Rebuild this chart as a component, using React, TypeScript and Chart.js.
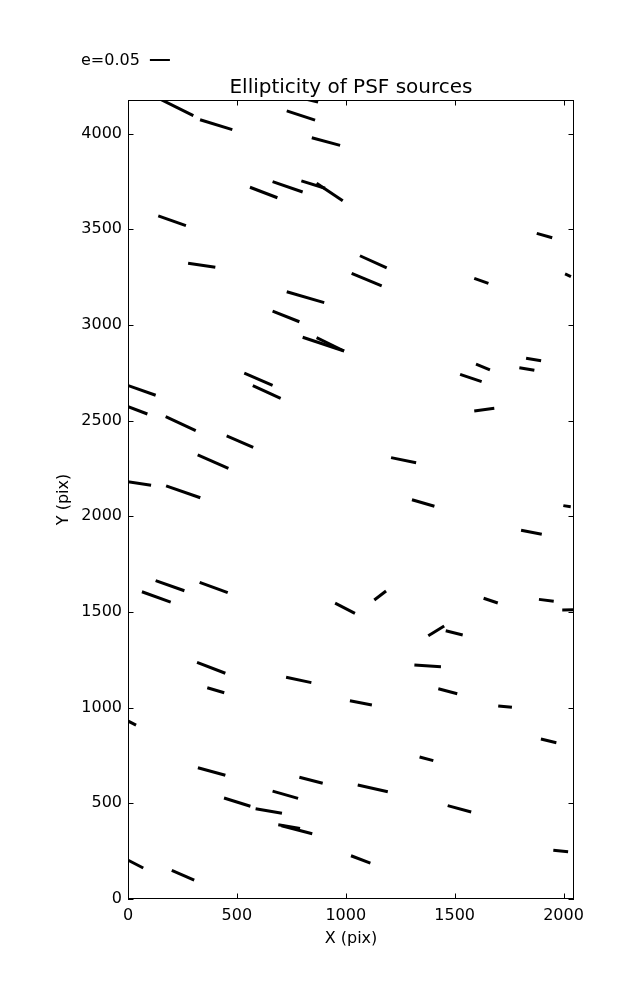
import React, { useEffect, useRef } from "react";
import { Chart, registerables } from "chart.js";

Chart.register(...registerables);

// Whisker segments (start / end) in image pixel coordinates
const X_START = [138, 331, 729, 844, 800, 560, 664, 796, 866, 139, 276, 1027, 1065, 1590, 1877, 2007, 1598, 1828, 1797, 729, 664, 802, 866, -5, -5, 173, 534, 573, 453, 320, -5, 175, 64, 127, 329, 951, 1525, 1590, 1208, 1304, 1999, 1805, 1131, 1633, 1887, 1994, 1379, 1459, 317, 364, 726, 1019, -5, 321, 787, 664, 441, 586, 690, 705, 1024, -5, 201, 1315, 1425, 1700, 1896, 1339, 1055, 1468, 1953];
const Y_START = [4186, 4073, 4119, 3979, 4185, 3720, 3749, 3753, 3741, 3570, 3323, 3270, 3362, 3244, 3479, 3267, 2795, 2826, 2777, 3174, 3073, 2936, 2934, 2686, 2576, 2521, 2748, 2683, 2420, 2321, 2182, 2159, 1606, 1664, 1655, 1546, 2742, 2551, 2307, 2087, 2056, 1927, 1563, 1572, 1566, 1511, 1376, 1402, 1237, 1104, 1159, 1036, 933, 686, 636, 564, 528, 472, 388, 383, 226, 206, 150, 1223, 1099, 1009, 836, 742, 596, 488, 255];
const X_END = [300, 479, 859, 974, 873, 686, 802, 905, 986, 266, 401, 1165, 1188, 1655, 1948, 2034, 1662, 1897, 1866, 901, 787, 992, 992, 127, 89, 311, 664, 701, 575, 461, 106, 332, 196, 259, 458, 1042, 1624, 1682, 1323, 1407, 2033, 1900, 1185, 1698, 1955, 2060, 1452, 1537, 447, 442, 842, 1120, 37, 447, 894, 781, 562, 707, 790, 846, 1113, 70, 304, 1437, 1512, 1763, 1967, 1402, 1193, 1576, 2021];
const Y_END = [4094, 4021, 4071, 3939, 4165, 3665, 3695, 3715, 3650, 3519, 3302, 3205, 3298, 3218, 3456, 3253, 2765, 2813, 2763, 3117, 3017, 2864, 2864, 2633, 2535, 2448, 2685, 2617, 2361, 2251, 2162, 2097, 1552, 1611, 1601, 1493, 2704, 2565, 2280, 2053, 2050, 1906, 1610, 1547, 1556, 1512, 1427, 1380, 1180, 1078, 1131, 1014, 909, 647, 605, 526, 485, 448, 368, 341, 187, 162, 99, 1214, 1073, 1002, 817, 723, 561, 455, 247];

const X_MAX = 2048;
const Y_MAX = 4176;
const X_TICKS = [0, 500, 1000, 1500, 2000];
const Y_TICKS = [0, 500, 1000, 1500, 2000, 2500, 3000, 3500, 4000];
const TITLE = "Ellipticity of PSF sources";
const X_LABEL = "X (pix)";
const Y_LABEL = "Y (pix)";
const KEY_LABEL = "e=0.05";
const KEY_LENGTH = 92; // length of the e=0.05 key in X pixel units

const FONT = "DejaVu Sans";

const decorPlugin = {
  id: "decor",
  afterDraw(chart: any) {
    const { ctx, chartArea: a, scales } = chart;
    const xs = scales.x;
    const ys = scales.y;
    ctx.save();
    ctx.strokeStyle = "#000";
    ctx.lineWidth = 1;
    ctx.strokeRect(a.left + 0.5, a.top + 0.5, a.right - a.left - 1, a.bottom - a.top - 1);
    const TL = 5.5;
    ctx.beginPath();
    xs.ticks.forEach((t: any) => {
      const p = Math.round(xs.getPixelForValue(t.value)) + 0.5;
      ctx.moveTo(p, a.bottom);
      ctx.lineTo(p, a.bottom - TL);
      ctx.moveTo(p, a.top);
      ctx.lineTo(p, a.top + TL);
    });
    ys.ticks.forEach((t: any) => {
      const p = Math.round(ys.getPixelForValue(t.value)) + 0.5;
      ctx.moveTo(a.left, p);
      ctx.lineTo(a.left + TL, p);
      ctx.moveTo(a.right, p);
      ctx.lineTo(a.right - TL, p);
    });
    ctx.stroke();
    ctx.fillStyle = "#000";
    ctx.font = `20px "${FONT}"`;
    ctx.textAlign = "center";
    ctx.textBaseline = "alphabetic";
    ctx.fillText(TITLE, (a.left + a.right) / 2, a.top - 7);
    ctx.font = `16px "${FONT}"`;
    ctx.textAlign = "left";
    const tx = a.left - 47;
    ctx.fillText(KEY_LABEL, tx, a.top - 35);
    const w = ctx.measureText(KEY_LABEL).width;
    const kx = tx + w + 10;
    const klen = xs.getPixelForValue(KEY_LENGTH) - xs.getPixelForValue(0);
    ctx.lineWidth = 2;
    ctx.beginPath();
    ctx.moveTo(kx, a.top - 40);
    ctx.lineTo(kx + klen, a.top - 40);
    ctx.stroke();
    ctx.restore();
  },
};

export default function App() {
  const ref = useRef<HTMLCanvasElement>(null);
  useEffect(() => {
    if (!ref.current) return;
    const datasets = X_START.map((x1, i) => ({
      data: [
        { x: x1, y: Y_START[i] },
        { x: X_END[i], y: Y_END[i] },
      ],
      showLine: true,
      borderColor: "#000",
      backgroundColor: "#000",
      borderWidth: 3,
      borderCapStyle: "butt" as const,
      pointRadius: 0,
      pointHoverRadius: 0,
      clip: 0,
    }));
    const tickFont = { family: FONT, size: 16 };
    const chart = new Chart(ref.current, {
      type: "scatter",
      data: { datasets },
      options: {
        responsive: false,
        animation: false,
        layout: { padding: { left: 0, right: 55, top: 92, bottom: 0 } },
        plugins: { legend: { display: false }, tooltip: { enabled: false }, title: { display: false } },
        scales: {
          x: {
            type: "linear",
            min: 0,
            max: X_MAX,
            grid: { display: false, drawTicks: false },
            border: { display: false },
            afterBuildTicks: (s: any) => {
              s.ticks = X_TICKS.map((v) => ({ value: v }));
            },
            ticks: {
              autoSkip: false,
              maxRotation: 0,
              padding: 7,
              color: "#000",
              font: tickFont,
              callback: (v: any) => String(v),
            },
            title: {
              display: true,
              text: X_LABEL,
              color: "#000",
              font: tickFont,
              padding: { top: 0, bottom: 44 },
            },
            afterFit: (s: any) => {
              s.height = 93;
            },
          },
          y: {
            type: "linear",
            min: 0,
            max: Y_MAX,
            grid: { display: false, drawTicks: false },
            border: { display: false },
            afterBuildTicks: (s: any) => {
              s.ticks = Y_TICKS.map((v) => ({ value: v }));
            },
            ticks: {
              autoSkip: false,
              padding: 6,
              color: "#000",
              font: tickFont,
              callback: (v: any) => String(v),
            },
            title: {
              display: true,
              text: Y_LABEL,
              color: "#000",
              font: tickFont,
              padding: { top: 46, bottom: 0 },
            },
            afterFit: (s: any) => {
              s.width = 120;
            },
          },
        },
      },
      plugins: [decorPlugin],
    });
    return () => chart.destroy();
  }, []);
  return (
    <div style={{ width: 621, height: 984 }}>
      <canvas ref={ref} width={621} height={984} style={{ display: "block" }} />
    </div>
  );
}
